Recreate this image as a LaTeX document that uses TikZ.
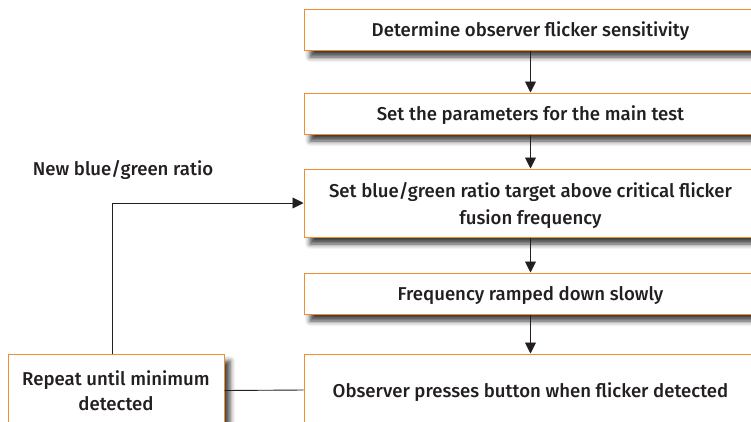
\documentclass[tikz,border=0pt]{standalone}
\usepackage{fontspec}
\setmainfont{Fira Sans}[UprightFont=* Medium]
\usetikzlibrary{arrows.meta,shadows.blur}
\definecolor{boxorange}{HTML}{F28C30}
\definecolor{inkdark}{HTML}{231F20}
\tikzset{
  stepbox/.style={draw=boxorange, line width=1pt, fill=white, text=inkdark,
    align=center, inner sep=0pt, text depth=0pt,
    blur shadow={shadow xshift=6pt, shadow yshift=-7pt, shadow blur radius=5pt, shadow opacity=75},
    font=\fontsize{18.6}{27}\selectfont},
  flow/.style={draw=inkdark, line width=0.9pt, -{Triangle[length=11pt,width=11pt]}},
  plainline/.style={draw=inkdark, line width=0.9pt},
  lbl/.style={text=inkdark, font=\fontsize{18.6}{22}\selectfont}
}
\begin{document}
\begin{tikzpicture}[x=1pt,y=-1pt]
\useasboundingbox (0,0) rectangle (751,421);
\clip (0,0) rectangle (751,421);
\node[stepbox, minimum width=453pt, minimum height=41pt] (b1) at (530.5,29.5) {Determine observer flicker sensitivity};
\node[stepbox, minimum width=453pt, minimum height=41pt] (b2) at (530.5,113.5) {Set the parameters for the main test};
\node[stepbox, minimum width=453pt, minimum height=68pt] (b3) at (530.5,203) {Set blue/green ratio target above critical flicker\\fusion frequency};
\node[stepbox, minimum width=453pt, minimum height=41pt] (b4) at (530.5,293.5) {Frequency ramped down slowly};
\node[stepbox, minimum width=453pt, minimum height=72pt] (b5) at (530.5,390) {Observer presses button when flicker detected};
\node[stepbox, minimum width=216pt, minimum height=73pt, font=\fontsize{18.6}{25}\selectfont] (rep) at (116,390.5) {Repeat until minimum\\detected};
\node[lbl] (newlbl) at (123,170) {New blue/green ratio};
\coordinate (loopx) at (112,203);
\draw[flow] (b1.south) -- (b2.north);
\draw[flow] (b2.south) -- (b3.north);
\draw[flow] (b3.south) -- (b4.north);
\draw[flow] (b4.south) -- (b5.north);
\draw[flow] (rep.north -| loopx) |- (b3.west);
\draw[plainline] (rep.east) -- (b5.west);
\end{tikzpicture}
\end{document}
